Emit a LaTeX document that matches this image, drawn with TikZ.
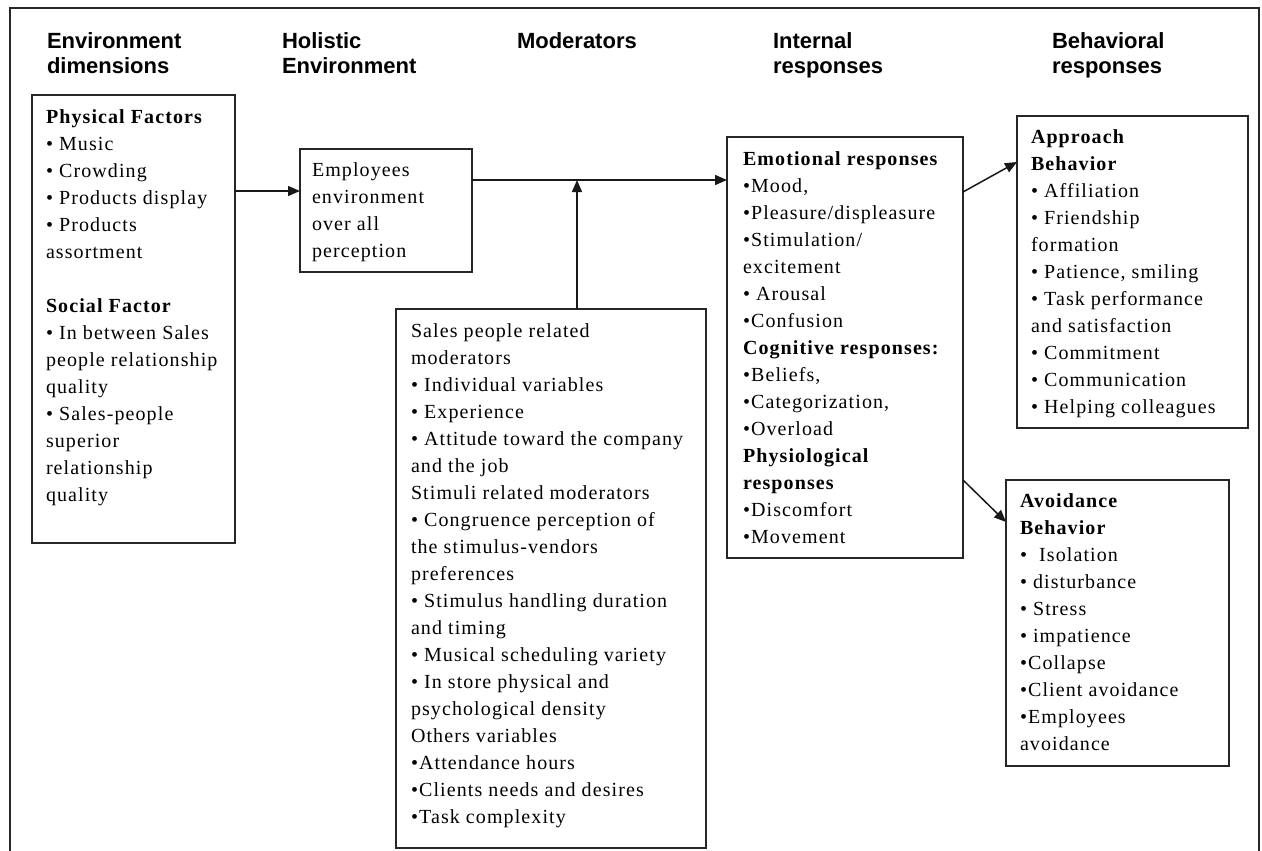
\documentclass[tikz,border=0pt]{standalone}
\usepackage{fontspec}
\setmainfont{Liberation Serif}[LetterSpace=5.5]
\newfontfamily\hdfont{Liberation Sans}
\usetikzlibrary{arrows.meta}
\newcommand\tstrut{\rule{0pt}{14pt}}
\newcommand\hstrut{\rule{0pt}{16.5pt}}
\begin{document}
\begin{tikzpicture}[x=1pt,y=-1pt,
  box/.style={draw=black!85, line width=1.5pt, inner sep=0pt, outer sep=0pt, anchor=north west},
  txt/.style={anchor=north west, inner sep=0pt, outer sep=0pt, align=left, font=\fontsize{20}{27}\selectfont},
  hd/.style={anchor=north west, inner sep=0pt, outer sep=0pt, align=left, font=\hdfont\bfseries\fontsize{22}{25}\selectfont},
  arr/.style={line width=1.5pt, draw=black!90, -{Triangle[length=12pt,width=10pt]}}]
\fill[white] (0,0) rectangle (1262,851);
\useasboundingbox (0,0) rectangle (1262,851);
\draw[line width=1.5pt, black!85] (10,851) -- (10,8) -- (1259,8) -- (1259,851);

% headers
\node[hd] (h1) at (47,32.5) {\hstrut Environment\\dimensions};
\node[hd] (h2) at (282,32.5) {\hstrut Holistic\\Environment};
\node[hd] (h3) at (517,32.5) {\hstrut Moderators};
\node[hd] (h4) at (773,32.5) {\hstrut Internal\\responses};
\node[hd] (h5) at (1052,32.5) {\hstrut Behavioral\\responses};

% boxes
\node[box, minimum width=203pt, minimum height=448pt] (env) at (32,95) {};
\node[box, minimum width=172pt, minimum height=123pt] (hol) at (300,149) {};
\node[box, minimum width=310pt, minimum height=539pt] (mod) at (396,309) {};
\node[box, minimum width=236pt, minimum height=421pt] (intl) at (727,137) {};
\node[box, minimum width=231pt, minimum height=312pt] (appr) at (1017,116) {};
\node[box, minimum width=223pt, minimum height=286pt] (avoid) at (1006,480) {};

% texts
\node[txt] (envt) at (46,109) {\tstrut\textbf{Physical Factors}\\• Music\\• Crowding\\• Products display\\• Products\\assortment\\[27pt]\textbf{Social Factor}\\• In between Sales\\people relationship\\quality\\• Sales-people\\superior\\relationship\\quality};
\node[txt] (holt) at (312,162) {\tstrut Employees\\environment\\over all\\perception};
\node[txt] (modt) at (411,323) {\tstrut Sales people related\\moderators\\• Individual variables\\• Experience\\• Attitude toward the company\\and the job\\Stimuli related moderators\\• Congruence perception of\\the stimulus-vendors\\preferences\\• Stimulus handling duration\\and timing\\• Musical scheduling variety\\• In store physical and\\psychological density\\Others variables\\•Attendance hours\\•Clients needs and desires\\•Task complexity};
\node[txt] (intlt) at (743,151) {\tstrut\textbf{Emotional responses}\\•Mood,\\•Pleasure/displeasure\\•Stimulation/\\excitement\\• Arousal\\•Confusion\\\textbf{Cognitive responses:}\\•Beliefs,\\•Categorization,\\•Overload\\\textbf{Physiological}\\\textbf{responses}\\•Discomfort\\•Movement};
\node[txt] (apprt) at (1031,129) {\tstrut\textbf{Approach}\\\textbf{Behavior}\\• Affiliation\\• Friendship\\formation\\• Patience, smiling\\• Task performance\\and satisfaction\\• Commitment\\• Communication\\• Helping colleagues};
\node[txt] (avoidt) at (1020,493) {\tstrut\textbf{Avoidance}\\\textbf{Behavior}\\• \ Isolation\\• disturbance\\• Stress\\• impatience\\•Collapse\\•Client avoidance\\•Employees\\avoidance};

% connectors
\coordinate (join) at (577,180);
\draw[arr] (env.east |- 0,191) -- (hol.west |- 0,191);
\draw[arr] (hol.east |- join) -- (intl.west |- join);
\draw[arr] (mod.north -| join) -- (join);
\draw[arr] (intl.east |- 0,192) -- (appr.west |- 0,162);
\draw[arr] (intl.east |- 0,480) -- (avoid.west |- 0,522);
\end{tikzpicture}
\end{document}
